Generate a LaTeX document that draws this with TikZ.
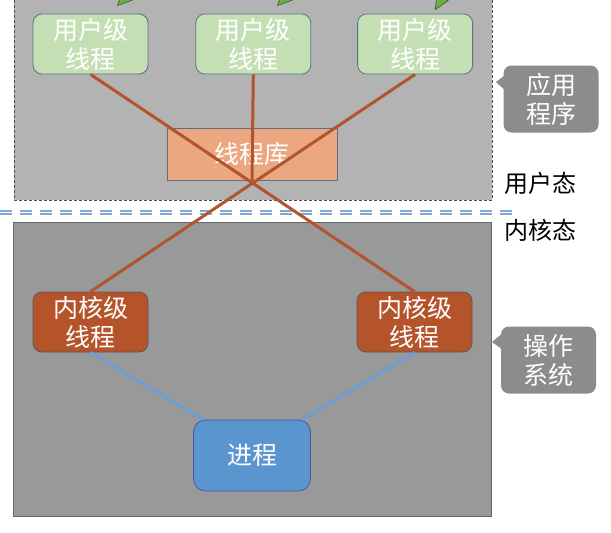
\documentclass[tikz,border=0pt]{standalone}
\usepackage{fontspec}
\usepackage{xcolor}
\usepackage{tikz}
\usetikzlibrary{arrows.meta,positioning}
\newfontfamily\cjk{Noto Sans CJK SC}
\definecolor{cZoneU}{HTML}{B3B3B3}
\definecolor{cZoneK}{HTML}{999999}
\definecolor{cUser}{HTML}{C5DFB4}
\definecolor{cEdge}{HTML}{5A7087}
\definecolor{cLib}{HTML}{EBA77F}
\definecolor{cKern}{HTML}{B5532B}
\definecolor{cProc}{HTML}{5B95CF}
\definecolor{cLink}{HTML}{B0552E}
\definecolor{cKLink}{HTML}{6A9ED6}
\definecolor{cTag}{HTML}{8C8C8C}
\definecolor{cSplit}{HTML}{7FA7D4}
\definecolor{cLeaf}{HTML}{6FAE45}
\tikzset{
  box/.style={rounded corners=9pt, draw=#1, line width=0.8pt, text=white, align=center,
              font=\cjk\fontsize{25}{29}\selectfont, minimum width=115pt, minimum height=60pt, inner sep=1pt},
  node distance=47pt,
  link/.style={line width=3pt, draw=cLink},
  klink/.style={line width=2.8pt, draw=cKLink},
  feed/.style={-{Triangle[length=15pt,width=14pt,fill=cLeaf]}, line width=0.6pt, draw=cLeaf!50!black},
  tag/.style={rounded corners=8pt, fill=cTag, text=white, align=center, inner sep=1pt,
              font=\cjk\fontsize{25}{29}\selectfont, minimum width=95pt, minimum height=67pt},
  lbl/.style={font=\cjk\fontsize{24}{28}\selectfont, text=black},
  split/.style={draw=cSplit, line width=1.3pt, double=white, double distance=1.6pt, dash pattern=on 12pt off 8pt},
}
\begin{document}
\begin{tikzpicture}[x=1pt, y=-1pt]
  \useasboundingbox (0,0) rectangle (611,533);
  \fill[white] (0,0) rectangle (611,533);
  \draw[fill=cZoneU, draw=gray!60!black, densely dashed, line width=0.6pt] (14,-5) rectangle (492,200);
  \draw[fill=cZoneK, draw=gray!80!black, line width=0.8pt] (13,222) rectangle (491,516);
  \coordinate (s0) at (0,212.5); \coordinate (s1) at (514,212.5);
  \draw[split] (s0) -- (s1);

  \node[box=cEdge, fill=cUser] (u1) at (90.5,44) {用户级\\线程};
  \node[box=cEdge, fill=cUser, right=of u1] (u2) {用户级\\线程};
  \node[box=cEdge, fill=cUser, right=46pt of u2] (u3) {用户级\\线程};
  \node[box=cEdge, fill=cLib, rounded corners=0pt, minimum width=170pt, minimum height=52pt] (lib) at (252,154) {线程库};
  \node[box=gray!70!black, fill=cKern] (k1) at (90.5,322) {内核级\\线程};
  \node[box=gray!70!black, fill=cKern] (k2) at (414.5,322) {内核级\\线程};
  \node[box=cEdge!80!blue, fill=cProc, rounded corners=12pt, minimum width=117pt, minimum height=71pt] (p) at (252,455.5) {进程};

  \node[tag] (app) at (551,99) {应用\\程序};
  \fill[cTag] ([xshift=4pt,yshift=-8pt]app.north west) -- (496,82) -- ([xshift=4pt,yshift=-27pt]app.north west) -- cycle;
  \node[tag] (os) at (548.5,360) {操作\\系统};
  \fill[cTag] ([xshift=4pt,yshift=-5pt]os.north west) -- (492,342) -- ([xshift=4pt,yshift=-25pt]os.north west) -- cycle;
  \node[lbl] (ul) at (540,183) {用户态};
  \node[lbl] (kl) at (540,230) {内核态};

  \coordinate (a1) at (147,-24); \coordinate (t1) at (117,6);
  \coordinate (a2) at (307,-24); \coordinate (t2) at (277,6);
  \coordinate (a3) at (455,-24); \coordinate (t3) at (435,10);
  \draw[feed] (a1)--(t1); \draw[feed] (a2)--(t2); \draw[feed] (a3)--(t3);

  \draw[link] (u1.south)--(k2.north); \draw[link] (u3.south)--(k1.north);
  \draw[link] (u2.south)--(lib.south);
  \draw[klink] (k1.south)--([xshift=10pt]p.north west); \draw[klink] (k2.south)--([xshift=-9pt]p.north east);
\end{tikzpicture}
\end{document}
